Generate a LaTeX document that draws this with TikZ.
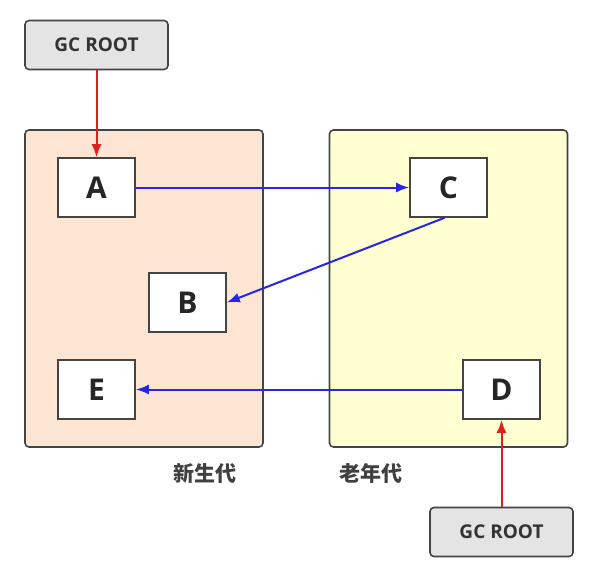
\documentclass[tikz,border=0pt]{standalone}
\usepackage{fontspec}
\setmainfont{Open Sans}
\newfontfamily\cjk{Noto Sans CJK SC}
\usetikzlibrary{arrows.meta}
\definecolor{peach}{HTML}{FDE5D3}
\definecolor{lightyel}{HTML}{FFFFD2}
\definecolor{rootgray}{HTML}{E4E4E4}
\definecolor{edgegray}{HTML}{444444}
\definecolor{bluearr}{HTML}{2626E6}
\definecolor{redarr}{HTML}{E01E1E}
\begin{document}
\begin{tikzpicture}[x=1pt,y=-1pt,
  region/.style={draw=edgegray,line width=1.6pt,rounded corners=4pt,minimum width=238pt,minimum height=317pt,inner sep=0pt},
  obj/.style={draw=edgegray,line width=1.6pt,fill=white,minimum width=77pt,minimum height=59pt,inner sep=0pt,font=\fontsize{30}{31}\selectfont\bfseries,text=black!85},
  root/.style={draw=edgegray,line width=1.6pt,fill=rootgray,rounded corners=4pt,minimum width=143pt,minimum height=49pt,inner sep=0pt,font=\fontsize{19}{20}\selectfont\bfseries,text=black!80},
  gen/.style={font=\cjk\fontsize{21}{22}\selectfont\bfseries,text=black!75},
  blarr/.style={color=bluearr,line width=2pt,-{Latex[length=13pt,width=10pt]}},
  rdarr/.style={color=redarr,line width=2pt,-{Latex[length=13pt,width=10pt]}}]
\useasboundingbox (0,0) rectangle (599,563);
\node[region,fill=peach] (young) at (144,288.5) {};
\node[region,fill=lightyel] (old) at (448.5,288.5) {};
\node[root] (r1) at (96.5,45) {GC ROOT};
\node[root] (r2) at (501.5,532) {GC ROOT};
\node[obj] (A) at (96.5,187.5) {A};
\node[obj] (C) at (448.5,187.5) {C};
\node[obj] (B) at (187.5,302.5) {B};
\node[obj] (E) at (96.5,389.5) {E};
\node[obj] (D) at (501.5,389.5) {D};
\node[gen] (ly) at (205,473) {新生代};
\node[gen] (lo) at (371,473) {老年代};
\draw[rdarr] (r1) -- (A);
\draw[rdarr] (r2) -- (D);
\draw[blarr] (A) -- (C);
\draw[blarr] ([xshift=-4pt]C.south) -- (B.east);
\draw[blarr] (D) -- (E);
\end{tikzpicture}
\end{document}
